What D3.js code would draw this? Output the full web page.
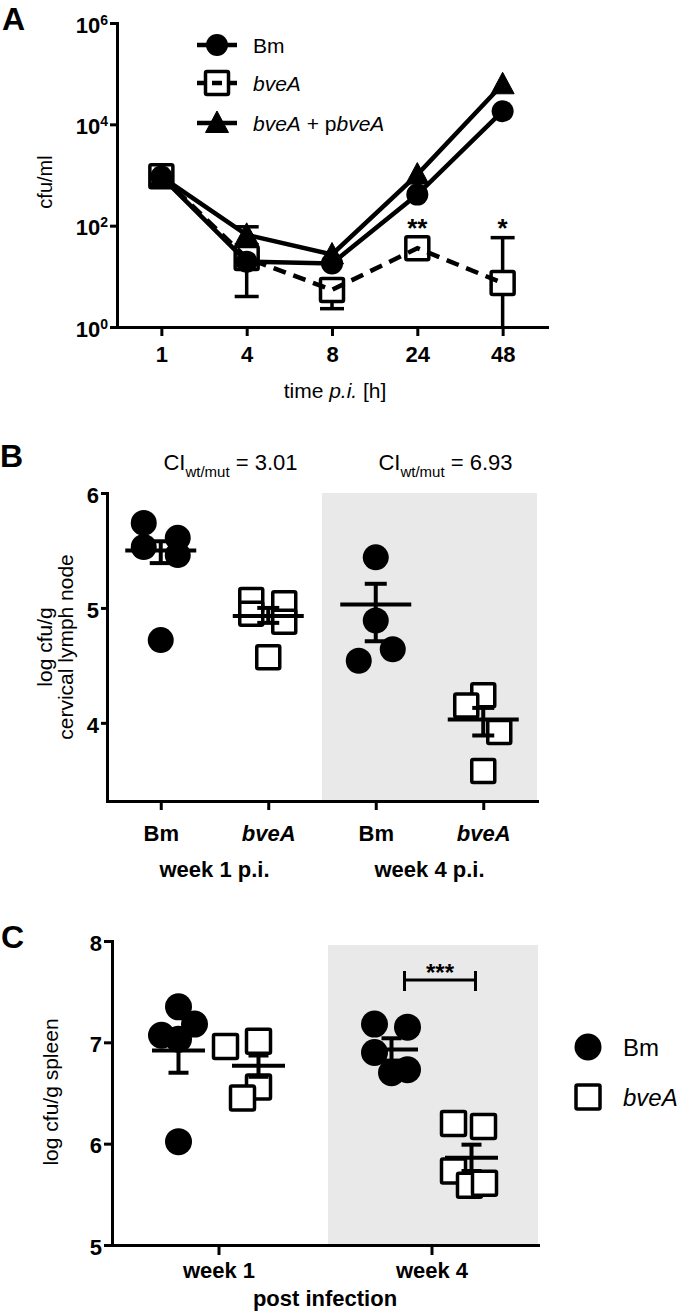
<!DOCTYPE html>
<html><head><meta charset="utf-8">
<script src="https://cdn.jsdelivr.net/npm/d3@7"></script>
<style>
body{margin:0;background:#fff}
svg{display:block}
text{font-family:'Liberation Sans',Arial,Helvetica,sans-serif;fill:#000}
</style>
</head><body>
<svg id="chart" width="680" height="1314"></svg>
<script>
// ---------------- DATA ----------------
// Panel A: cfu/ml over time (SEM 0 = bar hidden behind marker)
const timeLabels = ["1", "4", "8", "24", "48"];
const seriesNamesA = ["Bm", "bveA", "bveA + pbveA"];
const bmCfu    = [930, 19.5, 18, 410, 18200];
const bmSem    = [0, 0, 0, 0, 0];
const bveACfu  = [950, 23, 5.4, 36, 7.4];
const bveASem  = [0, 19, 3.1, 0, 50.6];
const complCfu = [930, 66, 27, 1020, 61700];
const complSem = [0, 29, 0, 0, 0];
const starsA   = ["", "", "", "**", "*"];
const logTicksA = [1, 1e2, 1e4, 1e6];

// Panel B: log cfu/g cervical lymph node
const lnCategories = ["Bm", "bveA", "Bm", "bveA"];
const lnWeekLabels = ["week 1 p.i.", "week 4 p.i."];
const lnBmWeek1   = [5.74, 5.53, 5.61, 5.46, 4.72];
const lnBveAWeek1 = [5.07, 4.95, 5.04, 4.88, 4.57];
const lnBmWeek4   = [5.44, 4.89, 4.64, 4.54];
const lnBveAWeek4 = [4.24, 4.15, 3.92, 3.58];
const lnMeans  = [5.50, 4.93, 5.03, 4.03];
const lnSemLo  = [5.39, 4.87, 4.71, 3.89];
const lnSemHi  = [5.58, 5.00, 5.21, 4.13];
const ciLabels = ["3.01", "6.93"];
const lnTicks  = [4, 5, 6];

// Panel C: log cfu/g spleen
const spWeeks = ["week 1", "week 4"];
const spBmWeek1   = [7.35, 7.18, 7.07, 7.03, 6.02];
const spBveAWeek1 = [6.96, 7.01, 6.56, 6.45];
const spBmWeek4   = [7.18, 7.15, 6.90, 6.73, 6.70];
const spBveAWeek4 = [6.20, 6.17, 5.73, 5.59, 5.61];
const spMeans = [6.92, 6.77, 6.93, 5.86];
const spSemLo = [6.70, 6.66, 6.82, 5.73];
const spSemHi = [7.13, 6.87, 7.04, 5.99];
const spTicks = [5, 6, 7, 8];

// ---------------- LAYOUT (point jitter, px) ----------------
const jitterB = [[-17, -17, 17, 17, 0], [-17, -17, 16, 16, 0], [0, 0, 17, -17], [0, -17, 16, 0]];
const jitterC = [[0, 16, -17, 0, 0], [-33, 0, 0, -16], [-17, 16, -17, 16, 0], [-18, 12, -18, -2, 13]];

const svg = d3.select("#chart");
const FONT = "'Liberation Sans',Arial,Helvetica,sans-serif";

function styleAxis(g, fs) {
  g.attr("font-family", FONT);
  g.select(".domain").attr("stroke", "#000").attr("stroke-width", 3).attr("stroke-linecap", "square");
  g.selectAll(".tick line").attr("stroke", "#000").attr("stroke-width", 3);
  g.selectAll(".tick text").attr("fill", "#000").attr("font-size", fs).attr("font-weight", "bold");
}
function panelLabel(t, x, y) {
  svg.append("text").attr("x", x).attr("y", y).attr("font-size", 32).attr("font-weight", "bold").text(t);
}

// ================= PANEL A =================
panelLabel("A", 2, 30);
const xA = d3.scalePoint().domain(timeLabels).range([117, 547]).padding(0.52);
const yA = d3.scaleLog().domain([1, 1e6]).range([327, 23]);

const gAx = svg.append("g").attr("transform", "translate(0,327)")
  .call(d3.axisBottom(xA).tickSize(9).tickSizeOuter(0).tickPadding(10));
styleAxis(gAx, 22);
const gAy = svg.append("g").attr("transform", "translate(117,0)")
  .call(d3.axisLeft(yA).tickValues(logTicksA).tickSize(7).tickSizeOuter(0).tickPadding(2).tickFormat(""));
styleAxis(gAy, 22);
gAy.selectAll(".tick text").each(function (d) {
  const t = d3.select(this).attr("dy", "0.42em");
  t.append("tspan").text("10");
  t.append("tspan").attr("dy", -8).attr("font-size", 14).text(Math.round(Math.log10(d)));
});

svg.append("text").attr("transform", "translate(52,182) rotate(-90)").attr("text-anchor", "middle")
  .attr("font-size", 20).text("cfu/ml");
const xt = svg.append("text").attr("x", 335).attr("y", 398).attr("text-anchor", "middle").attr("font-size", 21);
xt.append("tspan").text("time ");
xt.append("tspan").attr("font-style", "italic").text("p.i.");
xt.append("tspan").text(" [h]");

const seriesA = [
  { name: seriesNamesA[0], v: bmCfu, s: bmSem, shape: "circle", dash: null },
  { name: seriesNamesA[1], v: bveACfu, s: bveASem, shape: "square", dash: "13,8" },
  { name: seriesNamesA[2], v: complCfu, s: complSem, shape: "triangle", dash: null }
];
const triPath = "M0,-12L11.5,9.5L-11.5,9.5Z";
function drawMarker(g, shape, x, y, r) {
  if (shape === "circle") g.append("circle").attr("cx", x).attr("cy", y).attr("r", r).attr("fill", "#000");
  else if (shape === "square") g.append("rect").attr("x", x - r).attr("y", y - r).attr("width", 2 * r).attr("height", 2 * r)
    .attr("fill", "#fff").attr("stroke", "#000").attr("stroke-width", 3.5).attr("rx", 1.5);
  else g.append("path").attr("d", triPath).attr("transform", `translate(${x},${y})`).attr("fill", "#000")
    .attr("stroke", "#000").attr("stroke-width", 1).attr("stroke-linejoin", "round");
}
// error bars
const gErr = svg.append("g").attr("stroke", "#000").attr("stroke-width", 3.5);
seriesA.forEach(s => {
  s.v.forEach((v, i) => {
    if (!s.s[i]) return;
    const x = xA(timeLabels[i]);
    const hi = v + s.s[i], lo = Math.max(v - s.s[i], 1);
    gErr.append("line").attr("x1", x).attr("x2", x).attr("y1", yA(lo)).attr("y2", yA(hi));
    gErr.append("line").attr("x1", x - 12).attr("x2", x + 12).attr("y1", yA(hi)).attr("y2", yA(hi));
    if (v - s.s[i] > 1) gErr.append("line").attr("x1", x - 12).attr("x2", x + 12).attr("y1", yA(lo)).attr("y2", yA(lo));
  });
});
const lineA = d3.line().x((d, i) => xA(timeLabels[i])).y(d => yA(d));
const gMk = svg.append("g");
// squares first, then lines, then filled markers
seriesA.filter(s => s.shape === "square").forEach(s => s.v.forEach((v, i) => drawMarker(gMk, s.shape, xA(timeLabels[i]), yA(v), 11.5)));
seriesA.forEach(s => {
  svg.append("path").datum(s.v).attr("d", lineA).attr("fill", "none").attr("stroke", "#000")
    .attr("stroke-width", 4.5).attr("stroke-dasharray", s.dash);
});
const gMk2 = svg.append("g");
seriesA.filter(s => s.shape !== "square").forEach(s => s.v.forEach((v, i) => drawMarker(gMk2, s.shape, xA(timeLabels[i]), yA(v), 11)));
// stars
starsA.forEach((st, i) => {
  if (!st) return;
  svg.append("text").attr("x", xA(timeLabels[i])).attr("y", 237).attr("text-anchor", "middle")
    .attr("font-size", 26).attr("font-weight", "bold").text(st);
});
// legend A
const legY = [45, 83, 123];
seriesA.forEach((s, k) => {
  const g = svg.append("g");
  if (s.shape === "square") drawMarker(g, s.shape, 217, legY[k], 11.5);
  g.append("line").attr("x1", 197).attr("x2", 237).attr("y1", legY[k]).attr("y2", legY[k])
    .attr("stroke", "#000").attr("stroke-width", 4.5).attr("stroke-dasharray", s.shape === "square" ? "10,5" : null);
  if (s.shape !== "square") drawMarker(g, s.shape, 217, legY[k], 11);
  const t = g.append("text").attr("x", 253).attr("y", legY[k]).attr("dy", "0.36em").attr("font-size", 21);
  if (k === 0) t.text(s.name);
  else if (k === 1) t.append("tspan").attr("font-style", "italic").text("bveA");
  else {
    t.append("tspan").attr("font-style", "italic").text("bveA");
    t.append("tspan").text(" + p");
    t.append("tspan").attr("font-style", "italic").text("bveA");
  }
});

// ================= PANEL B =================
panelLabel("B", 0, 467);
const xB = d3.scalePoint().domain([0, 1, 2, 3]).range([107, 537]).padding(0.5);
const yB = d3.scaleLinear().domain([3.32, 6]).range([801, 493]);
const grayB = (xB(1) + xB(2)) / 2;
svg.append("rect").attr("x", grayB).attr("y", yB(6)).attr("width", 537 - grayB).attr("height", yB(3.32) - yB(6)).attr("fill", "#e9e9e9");

const gBx = svg.append("g").attr("transform", "translate(0,801)")
  .call(d3.axisBottom(xB).tickSize(9).tickSizeOuter(0).tickPadding(15).tickFormat(i => lnCategories[i]));
styleAxis(gBx, 22);
gBx.selectAll(".tick text").attr("font-style", i => lnCategories[i] === "bveA" ? "italic" : null);
const gBy = svg.append("g").attr("transform", "translate(107,0)")
  .call(d3.axisLeft(yB).tickValues(lnTicks).tickSize(6).tickSizeOuter(0).tickPadding(2).tickFormat(d3.format("d")));
styleAxis(gBy, 22);
gBy.selectAll(".tick text").attr("dy", "0.42em");

lnWeekLabels.forEach((w, k) => {
  svg.append("text").attr("x", (xB(2 * k) + xB(2 * k + 1)) / 2).attr("y", 877).attr("text-anchor", "middle")
    .attr("font-size", 22).attr("font-weight", "bold").text(w);
});
ciLabels.forEach((c, k) => {
  const t = svg.append("text").attr("x", (xB(2 * k) + xB(2 * k + 1)) / 2 + 16).attr("y", 470).attr("text-anchor", "middle").attr("font-size", 22);
  t.append("tspan").text("CI");
  t.append("tspan").attr("font-size", 15).attr("dy", 7).text("wt/mut");
  t.append("tspan").attr("dy", -7).text(" = " + c);
});
svg.append("text").attr("transform", "translate(52,647) rotate(-90)").attr("text-anchor", "middle").attr("font-size", 21).text("log cfu/g");
svg.append("text").attr("transform", "translate(73,647) rotate(-90)").attr("text-anchor", "middle").attr("font-size", 21).text("cervical lymph node");

const groupsB = [lnBmWeek1, lnBveAWeek1, lnBmWeek4, lnBveAWeek4];
groupsB.forEach((arr, gi) => {
  const shape = gi % 2 === 0 ? "circle" : "square";
  arr.forEach((v, j) => drawMarker(svg, shape, xB(gi) + jitterB[gi][j], yB(v), shape === "circle" ? 13 : 11.5));
});
function meanSem(xc, yScale, m, lo, hi, halfW, capW) {
  const g = svg.append("g").attr("stroke", "#000").attr("stroke-width", 4);
  g.append("line").attr("x1", xc - halfW).attr("x2", xc + halfW).attr("y1", yScale(m)).attr("y2", yScale(m));
  g.append("line").attr("x1", xc).attr("x2", xc).attr("y1", yScale(lo)).attr("y2", yScale(hi));
  g.append("line").attr("x1", xc - capW).attr("x2", xc + capW).attr("y1", yScale(lo)).attr("y2", yScale(lo));
  g.append("line").attr("x1", xc - capW).attr("x2", xc + capW).attr("y1", yScale(hi)).attr("y2", yScale(hi));
}
lnMeans.forEach((m, gi) => meanSem(xB(gi), yB, m, lnSemLo[gi], lnSemHi[gi], 35.5, 11));

// ================= PANEL C =================
panelLabel("C", 1, 948);
const xC = d3.scalePoint().domain(spWeeks).range([112, 538]).padding(0.5);
const yC = d3.scaleLinear().domain([5, 8]).range([1245, 941]);
const grayC = (xC(spWeeks[0]) + xC(spWeeks[1])) / 2 + 3;
svg.append("rect").attr("x", grayC).attr("y", yC(8) + 4).attr("width", 538 - grayC).attr("height", yC(5) - yC(8) - 4).attr("fill", "#e9e9e9");

const gCx = svg.append("g").attr("transform", "translate(0,1245)")
  .call(d3.axisBottom(xC).tickSize(10).tickSizeOuter(0).tickPadding(7));
styleAxis(gCx, 22);
const gCy = svg.append("g").attr("transform", "translate(112,0)")
  .call(d3.axisLeft(yC).tickValues(spTicks).tickSize(8).tickSizeOuter(0).tickPadding(2).tickFormat(d3.format("d")));
styleAxis(gCy, 22);
gCy.selectAll(".tick text").attr("dy", "0.42em");
svg.append("text").attr("x", (xC(spWeeks[0]) + xC(spWeeks[1])) / 2).attr("y", 1306).attr("text-anchor", "middle")
  .attr("font-size", 22).attr("font-weight", "bold").text("post infection");
svg.append("text").attr("transform", "translate(58,1092) rotate(-90)").attr("text-anchor", "middle").attr("font-size", 21).text("log cfu/g spleen");

const groupsC = [spBmWeek1, spBveAWeek1, spBmWeek4, spBveAWeek4];
const offC = [-40, 40];
groupsC.forEach((arr, gi) => {
  const shape = gi % 2 === 0 ? "circle" : "square";
  const xc = xC(spWeeks[Math.floor(gi / 2)]) + offC[gi % 2];
  arr.forEach((v, j) => drawMarker(svg, shape, xc + jitterC[gi][j], yC(v), shape === "circle" ? 13.5 : 12));
});
spMeans.forEach((m, gi) => {
  const xc = xC(spWeeks[Math.floor(gi / 2)]) + offC[gi % 2];
  meanSem(xc, yC, m, spSemLo[gi], spSemHi[gi], 26.5, 10);
});
// significance bracket
const bx1 = xC(spWeeks[1]) - 27, bx2 = xC(spWeeks[1]) + 44, by = 980;
const gs = svg.append("g").attr("stroke", "#000").attr("stroke-width", 3);
gs.append("line").attr("x1", bx1).attr("x2", bx2).attr("y1", by).attr("y2", by);
gs.append("line").attr("x1", bx1).attr("x2", bx1).attr("y1", by - 9).attr("y2", by + 11);
gs.append("line").attr("x1", bx2).attr("x2", bx2).attr("y1", by - 9).attr("y2", by + 11);
svg.append("text").attr("x", (bx1 + bx2) / 2).attr("y", 981).attr("text-anchor", "middle").attr("font-size", 24).attr("font-weight", "bold").text("***");

// legend C
drawMarker(svg, "circle", 588, 1047, 13.5);
svg.append("text").attr("x", 623).attr("y", 1047).attr("dy", "0.36em").attr("font-size", 24).text("Bm");
const sq = svg.append("g"); drawMarker(sq, "square", 588, 1097, 12);
svg.append("text").attr("x", 623).attr("y", 1097).attr("dy", "0.36em").attr("font-size", 24).attr("font-style", "italic").text("bveA");
</script>
</body></html>
